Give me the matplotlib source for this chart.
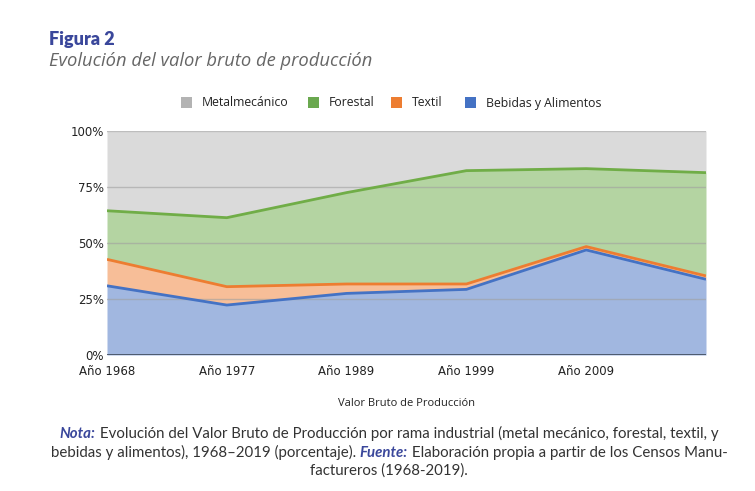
import matplotlib
matplotlib.use("Agg")
import matplotlib.pyplot as plt
import numpy as np

categories = ["Año 1968", "Año 1977", "Año 1989", "Año 1999", "Año 2009", "Año 2019"]
tick_labels = ["Año 1968", "Año 1977", "Año 1989", "Año 1999", "Año 2009", ""]
bebidas = [30.9, 22.3, 27.5, 29.3, 46.9, 33.8]
textil = [11.8, 8.2, 4.2, 2.4, 1.5, 1.5]
forestal = [21.7, 30.8, 40.8, 50.6, 34.8, 46.1]
metal = [35.6, 38.7, 27.5, 17.7, 16.8, 18.6]
series_names = ["Metalmecánico", "Forestal", "Textil", "Bebidas y Alimentos"]
y_ticks = [0, 25, 50, 75, 100]

W, H = 755, 491
fig = plt.figure(figsize=(W / 100, H / 100), dpi=100)
ax = fig.add_axes([107 / W, 1 - 355 / H, (706 - 107) / W, (355 - 131) / H])

x = np.arange(len(categories))
b = np.array(bebidas)
t = b + np.array(textil)
f = t + np.array(forestal)
m = f + np.array(metal)

line_cols = {"m": "#A5A5A5", "f": "#70AD47", "t": "#ED7D31", "b": "#4472C4"}
fill_cols = {"m": "#DADADA", "f": "#B4D4A2", "t": "#F7BE98", "b": "#A1B7E0"}

ax.fill_between(x, f, 100, color=fill_cols["m"], lw=0, zorder=1)
ax.fill_between(x, t, f, color=fill_cols["f"], lw=0, zorder=1)
ax.fill_between(x, b, t, color=fill_cols["t"], lw=0, zorder=1)
ax.fill_between(x, 0, b, color=fill_cols["b"], lw=0, zorder=1)

for yv in y_ticks[1:]:
    ax.axhline(yv, color="#A0A0A0" if yv < 100 else "#BDBDBD", lw=1.0, alpha=0.6 if yv < 100 else 1, zorder=2)

ax.plot(x, f, color=line_cols["f"], lw=2, zorder=3, solid_capstyle="butt")
ax.plot(x, t, color=line_cols["t"], lw=2, zorder=3, solid_capstyle="butt")
ax.plot(x, b, color=line_cols["b"], lw=2, zorder=3, solid_capstyle="butt")
ax.axhline(0, color="#3F4A5A", lw=1.2, zorder=4)

ax.set_xlim(0, len(categories) - 1)
ax.set_ylim(0, 100)
ax.set_yticks(y_ticks)
ax.set_yticklabels([f"{v}%" for v in y_ticks])
ax.set_xticks(x)
ax.set_xticklabels(tick_labels)
for s in ax.spines.values():
    s.set_visible(False)
ax.tick_params(length=0, labelsize=8.5, colors="#222222", pad=2)
ax.tick_params(axis="x", pad=7)

# Legend (manual)
from matplotlib.patches import Rectangle
leg_items = [(series_names[0], "#B3B3B3", 181), (series_names[1], "#6AA84F", 308),
             (series_names[2], "#ED7D31", 391), (series_names[3], "#4472C4", 465)]
for name, col, px in leg_items:
    fig.patches.append(Rectangle((px / W, 1 - 108 / H), 11 / W, 11 / H, transform=fig.transFigure,
                                 facecolor=col, edgecolor="none"))
    fig.text((px + 21) / W, 1 - 103 / H, name, fontsize=8.8, color="#222222", va="center", ha="left",
             family="Open Sans")

fig.text(407 / W, 1 - 404 / H, "Valor Bruto de Producción", fontsize=8, ha="center", va="center",
         color="#222222", family="Open Sans")

# Title
fig.text(49 / W, 1 - 40 / H, "Figura 2", fontsize=13, fontweight="heavy", color="#3A479B",
         va="center", ha="left", family="Lato")
fig.text(49 / W, 1 - 61 / H, "Evolución del valor bruto de producción", fontsize=13.2, style="italic",
         color="#666666", va="center", ha="left", family="Open Sans")

# Note with mixed styles
renderer = fig.canvas.get_renderer()
blue = "#3A479B"
note_fs = 10.8
lines = [
    [("Nota:", True), (" Evolución del Valor Bruto de Producción por rama industrial (metal mecánico, forestal, textil, y", False)],
    [("bebidas y alimentos), 1968–2019 (porcentaje). ", False), ("Fuente:", True), (" Elaboración propia a partir de los Censos Manu-", False)],
    [("factureros (1968-2019).", False)],
]
ys = [438, 457, 475]
cx = 389
for parts, yp in zip(lines, ys):
    texts = []
    widths = []
    for s, emph in parts:
        kw = dict(fontsize=note_fs, family="Lato", va="baseline", ha="left")
        if emph:
            kw.update(fontweight="bold", style="italic", color=blue)
        else:
            kw.update(color="#333333")
        tt = fig.text(0, 1 - yp / H, s, **kw)
        bb = tt.get_window_extent(renderer)
        texts.append(tt)
        widths.append(bb.width)
    total = sum(widths)
    xs = cx - total / 2
    for tt, w in zip(texts, widths):
        tt.set_x(xs / W)
        xs += w

fig.savefig("out.png", dpi=100, facecolor="white")
